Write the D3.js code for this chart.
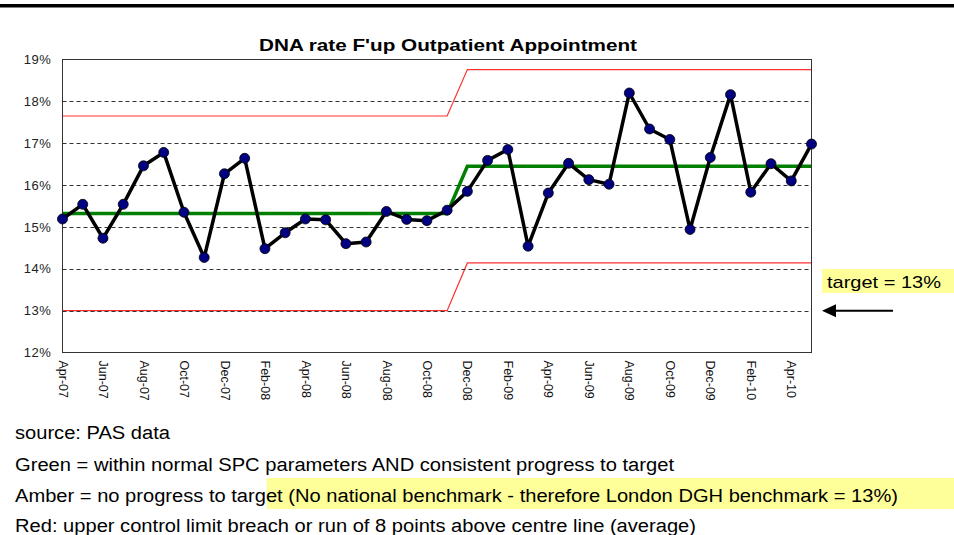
<!DOCTYPE html>
<html><head><meta charset="utf-8">
<script src="https://cdn.jsdelivr.net/npm/d3@7"></script>
<style>body{margin:0;background:#fff}svg{display:block;font-family:"Liberation Sans",Arial,sans-serif}</style>
</head><body><div id="chart"></div>
<script>
const months = ["Apr-07","May-07","Jun-07","Jul-07","Aug-07","Sep-07","Oct-07","Nov-07","Dec-07","Jan-08","Feb-08","Mar-08","Apr-08","May-08","Jun-08","Jul-08","Aug-08","Sep-08","Oct-08","Nov-08","Dec-08","Jan-09","Feb-09","Mar-09","Apr-09","May-09","Jun-09","Jul-09","Aug-09","Sep-09","Oct-09","Nov-09","Dec-09","Jan-10","Feb-10","Mar-10","Apr-10","May-10"];
const dnaRate = [15.19,15.54,14.73,15.54,16.46,16.78,15.35,14.27,16.27,16.64,14.48,14.86,15.19,15.17,14.60,14.64,15.37,15.18,15.15,15.40,15.85,16.59,16.85,14.54,15.81,16.52,16.13,16.02,18.20,17.34,17.09,14.94,16.66,18.16,15.83,16.51,16.10,16.98];
const centreLine = [15.32,15.32,15.32,15.32,15.32,15.32,15.32,15.32,15.32,15.32,15.32,15.32,15.32,15.32,15.32,15.32,15.32,15.32,15.32,15.32,16.45,16.45,16.45,16.45,16.45,16.45,16.45,16.45,16.45,16.45,16.45,16.45,16.45,16.45,16.45,16.45,16.45,16.45];
const upperLimit = [17.65,17.65,17.65,17.65,17.65,17.65,17.65,17.65,17.65,17.65,17.65,17.65,17.65,17.65,17.65,17.65,17.65,17.65,17.65,17.65,18.76,18.76,18.76,18.76,18.76,18.76,18.76,18.76,18.76,18.76,18.76,18.76,18.76,18.76,18.76,18.76,18.76,18.76];
const lowerLimit = [13.0,13.0,13.0,13.0,13.0,13.0,13.0,13.0,13.0,13.0,13.0,13.0,13.0,13.0,13.0,13.0,13.0,13.0,13.0,13.0,14.14,14.14,14.14,14.14,14.14,14.14,14.14,14.14,14.14,14.14,14.14,14.14,14.14,14.14,14.14,14.14,14.14,14.14];
const tickLabels = ["Apr-07","Jun-07","Aug-07","Oct-07","Dec-07","Feb-08","Apr-08","Jun-08","Aug-08","Oct-08","Dec-08","Feb-09","Apr-09","Jun-09","Aug-09","Oct-09","Dec-09","Feb-10","Apr-10"];
const yTicks = [12,13,14,15,16,17,18,19];
const title = "DNA rate F'up Outpatient Appointment";
const targetLabel = "target = 13%";
const notes = ["source: PAS data",
  "Green = within normal SPC parameters AND consistent progress to target",
  "Amber = no progress to target (No national benchmark - therefore London DGH benchmark = 13%)",
  "Red: upper control limit breach or run of 8 points above centre line (average)"];

const W = 954, H = 535;
const svg = d3.select("#chart").append("svg").attr("width", W).attr("height", H);
const L = 62.5, R = 811.5, T = 59.5, B = 352.5;
const x = d3.scalePoint().domain(months).range([L, R]);
const y = d3.scaleLinear().domain([12, 19]).range([B, T]);

// top rule
svg.append("rect").attr("x", 0).attr("y", 4).attr("width", W).attr("height", 3.5).attr("fill", "#000");

// title
svg.append("text").attr("x", 448).attr("y", 51).attr("text-anchor", "middle")
  .attr("font-size", 17).attr("font-weight", "bold").attr("textLength", 378).attr("lengthAdjust", "spacingAndGlyphs")
  .text(title);

// control limits (red)
const line = arr => d3.line().x((d, i) => x(months[i])).y(d => y(d))(arr);
svg.append("path").attr("d", line(upperLimit)).attr("fill", "none").attr("stroke", "#ff3030").attr("stroke-width", 1.2);
svg.append("path").attr("d", line(lowerLimit)).attr("fill", "none").attr("stroke", "#ff3030").attr("stroke-width", 1.2);

// gridlines
svg.append("g").selectAll("line").data(yTicks.filter(t => t > 12 && t < 19)).join("line")
  .attr("x1", L).attr("x2", R).attr("y1", d => Math.round(y(d)) + 0.5).attr("y2", d => Math.round(y(d)) + 0.5)
  .attr("stroke", "#333").attr("stroke-width", 1).attr("stroke-dasharray", "4,3");

// centre line (green)
svg.append("path").attr("d", line(centreLine)).attr("fill", "none").attr("stroke", "#008000").attr("stroke-width", 3.5);

// plot frame
svg.append("rect").attr("x", L).attr("y", T).attr("width", R - L).attr("height", B - T)
  .attr("fill", "none").attr("stroke", "#333").attr("stroke-width", 1);

// data line
svg.append("path").attr("d", line(dnaRate)).attr("fill", "none").attr("stroke", "#000").attr("stroke-width", 3.5).attr("stroke-linejoin", "round");
svg.append("g").selectAll("circle").data(dnaRate).join("circle")
  .attr("cx", (d, i) => x(months[i])).attr("cy", d => y(d)).attr("r", 5)
  .attr("fill", "#000080").attr("stroke", "#000").attr("stroke-width", 0.8);

// y axis labels
const yAxis = d3.axisLeft(y).tickValues(yTicks).tickFormat(d => d + "%").tickSize(0).tickPadding(0);
const gy = svg.append("g").attr("transform", `translate(${L - 11},0)`).call(yAxis);
gy.select(".domain").remove();
gy.selectAll("text").attr("font-size", 13).attr("fill", "#222").attr("letter-spacing", "0.6px")
  .attr("font-family", '"Liberation Sans",Arial,sans-serif');

// x axis labels
const xAxis = d3.axisBottom(x).tickValues(tickLabels).tickSize(0).tickPadding(0);
const gx = svg.append("g").attr("transform", `translate(0,${B})`).call(xAxis);
gx.select(".domain").remove();
gx.selectAll("text").attr("font-size", 12.5).attr("fill", "#111")
  .attr("font-family", '"Liberation Sans",Arial,sans-serif')
  .attr("text-anchor", "start").attr("transform", "rotate(90)")
  .attr("x", 8).attr("y", 0).attr("dy", "0.35em");

// target annotation
svg.append("rect").attr("x", 822).attr("y", 269).attr("width", W - 822).attr("height", 24).attr("fill", "#ffff99");
svg.append("text").attr("x", 827).attr("y", 288).attr("font-size", 17).attr("textLength", 114)
  .attr("lengthAdjust", "spacingAndGlyphs").text(targetLabel);
svg.append("line").attr("x1", 835).attr("x2", 893).attr("y1", y(13)).attr("y2", y(13)).attr("stroke", "#000").attr("stroke-width", 2);
svg.append("path").attr("d", `M822,${y(13)} L836,${y(13) - 6.5} L836,${y(13) + 6.5} Z`).attr("fill", "#000");

// notes
svg.append("rect").attr("x", 266.7).attr("y", 478).attr("width", W - 266.7).attr("height", 31).attr("fill", "#ffff99");
const noteY = [439, 471, 502.3, 532.3];
const noteW = [155, 659, 883, 681];
svg.append("g").selectAll("text").data(notes).join("text")
  .attr("x", 15).attr("y", (d, i) => noteY[i]).attr("font-size", 18).attr("fill", "#000")
  .attr("textLength", (d, i) => noteW[i]).attr("lengthAdjust", "spacingAndGlyphs").text(d => d);
</script></body></html>
